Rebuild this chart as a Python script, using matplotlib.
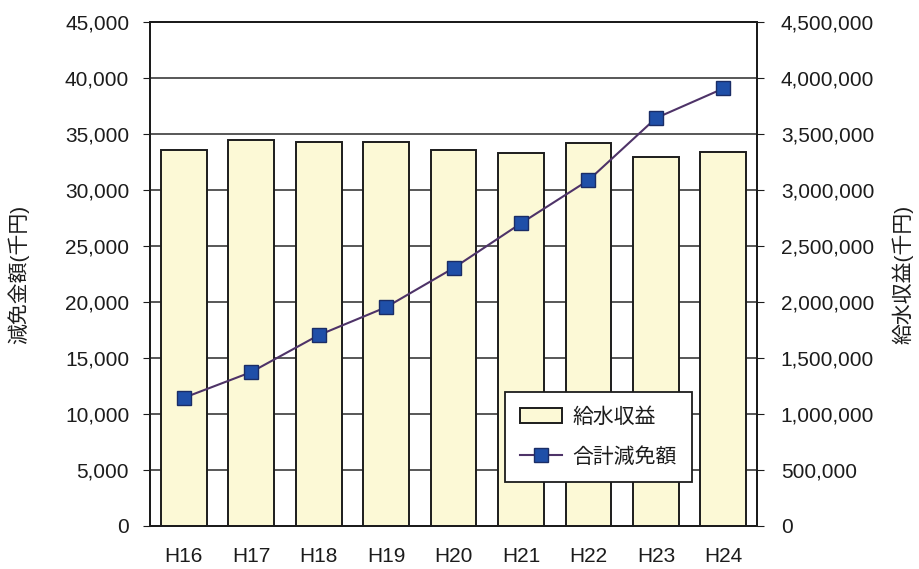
"""給水収益と合計減免額の推移 (H16-H24)"""

import matplotlib; matplotlib.use("Agg")
import matplotlib.pyplot as plt
from matplotlib.ticker import FuncFormatter

plt.rcParams["font.family"] = ["Liberation Sans", "Noto Sans CJK JP", "DejaVu Sans"]

years = ["H16", "H17", "H18", "H19", "H20", "H21", "H22", "H23", "H24"]
# 給水収益 (千円) - right axis, bars
revenue = [3360000, 3450000, 3430000, 3430000, 3360000, 3330000, 3420000, 3300000, 3340000]
# 合計減免額 (千円) - left axis, line
reduction = [11450, 13750, 17050, 19550, 23050, 27050, 30900, 36450, 39100]

left_ticks = list(range(0, 45001, 5000))
right_ticks = list(range(0, 4500001, 500000))

fig = plt.figure(figsize=(9.2, 5.69), dpi=100)
fig.patch.set_facecolor("white")
ax = fig.add_axes([0.163, 0.0756, 0.66, 0.885])
ax2 = ax.twinx()

x = list(range(len(years)))
fs = 15
ink = "#1c1c1c"
comma = FuncFormatter(lambda v, p: f"{int(v):,}")

# bars on right axis, drawn underneath
bars = ax2.bar(x, revenue, width=0.68, color="#fcf9d6", edgecolor=ink,
               linewidth=1.4, label="給水収益", zorder=2)
ax2.set_ylim(0, 4500000)
ax2.set_yticks(right_ticks)
ax2.yaxis.set_major_formatter(comma)
ax2.grid(axis="y", color="#2a2a2a", lw=1.1, zorder=0)
ax2.set_axisbelow(True)
ax2.tick_params(axis="y", labelsize=fs, pad=12, length=5, color=ink, labelcolor=ink)
ax2.set_ylabel("給水収益(千円)", fontsize=fs, rotation=90, color=ink)
ax2.yaxis.set_label_coords(1.222, 0.5)

# line on left axis, on top
line, = ax.plot(x, reduction, color="#4e3368", lw=1.5, marker="s", markersize=10,
                markerfacecolor="#1f4fa8", markeredgecolor="#1a2d66",
                markeredgewidth=1.0, label="合計減免額")
ax.set_zorder(ax2.get_zorder() + 1)
ax.patch.set_visible(False)
ax.set_ylim(0, 45000)
ax.set_yticks(left_ticks)
ax.yaxis.set_major_formatter(comma)
ax.tick_params(axis="y", labelsize=fs, pad=10, length=5, color=ink, labelcolor=ink)
ax.set_ylabel("減免金額(千円)", fontsize=fs, color=ink)
ax.yaxis.set_label_coords(-0.198, 0.5)
ax.set_xlim(-0.5, len(years) - 0.5)
ax.set_xticks(x)
ax.set_xticklabels(years)
ax.tick_params(axis="x", labelsize=fs, pad=15, length=0, labelcolor=ink)

for a in (ax, ax2):
    for s in a.spines.values():
        s.set_color(ink)
        s.set_linewidth(1.4)

leg = ax.legend([bars, line], ["給水収益", "合計減免額"],
                loc="lower left", bbox_to_anchor=(0.584, 0.087),
                fontsize=fs, frameon=True, fancybox=False, edgecolor=ink,
                framealpha=1, borderpad=0.75, labelspacing=0.95,
                handlelength=2.0, handletextpad=0.5, borderaxespad=0)
leg.get_frame().set_linewidth(1.3)
for t in leg.get_texts():
    t.set_color(ink)

fig.savefig("out.png", dpi=100)
